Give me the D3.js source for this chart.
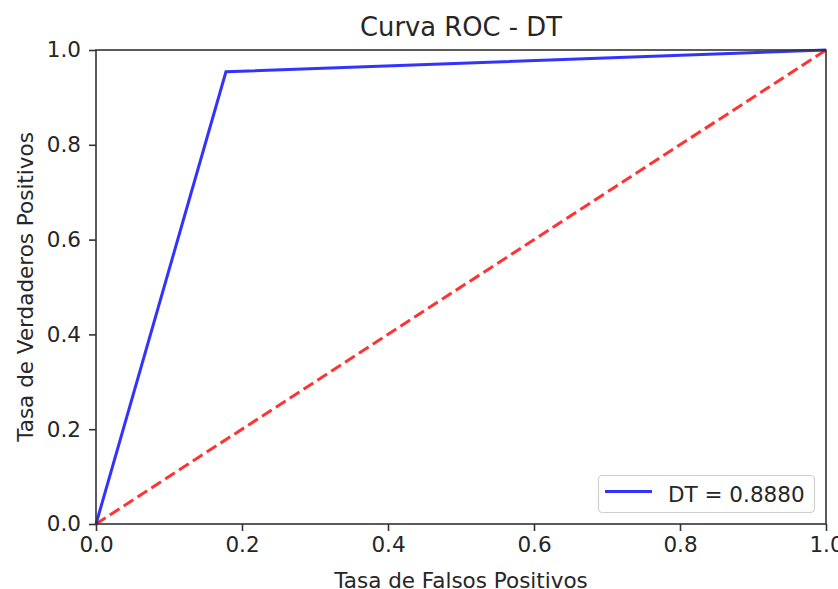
<!DOCTYPE html>
<html>
<head>
<meta charset="utf-8">
<script src="https://cdn.jsdelivr.net/npm/d3@7"></script>
<style>
  body { margin: 0; background: #fff; }
  text { font-family: "DejaVu Sans", sans-serif; fill: #262626; }
</style>
</head>
<body>
<script>
// ROC curve points
const fpr = [0.0, 0.178, 1.0];
const tpr = [0.0, 0.954, 1.0];
const chanceX = [0, 1];
const chanceY = [0, 1];
const ticks = [0.0, 0.2, 0.4, 0.6, 0.8, 1.0];
const legendLabel = 'DT = 0.8880';

const width = 838, height = 589;
const margin = { left: 96, right: 12, top: 50, bottom: 65 };
const fs = 21.5;

const svg = d3.select('body').append('svg')
    .attr('width', width)
    .attr('height', height);

const x = d3.scaleLinear().domain([0, 1]).range([margin.left, width - margin.right]);
const y = d3.scaleLinear().domain([0, 1]).range([height - margin.bottom, margin.top]);

// axes
const xAxis = svg.append('g')
    .attr('transform', `translate(0,${height - margin.bottom})`)
    .call(d3.axisBottom(x).tickValues(ticks).tickFormat(d3.format('.1f')).tickSize(7).tickPadding(6));
const yAxis = svg.append('g')
    .attr('transform', `translate(${margin.left},0)`)
    .call(d3.axisLeft(y).tickValues(ticks).tickFormat(d3.format('.1f')).tickSize(7).tickPadding(8));

[xAxis, yAxis].forEach(a => {
    a.select('.domain').remove();
    a.selectAll('.tick line').attr('stroke', '#333').attr('stroke-width', 1.6);
    a.selectAll('.tick text').style('font-size', fs + 'px').attr('fill', '#262626');
});

// lines
const line = d3.line().x(d => x(d[0])).y(d => y(d[1]));

svg.append('path')
    .datum(chanceX.map((v, i) => [v, chanceY[i]]))
    .attr('d', line)
    .attr('fill', 'none')
    .attr('stroke', 'red')
    .attr('stroke-opacity', 0.8)
    .attr('stroke-width', 3)
    .attr('stroke-dasharray', '11.5,5');

svg.append('path')
    .datum(fpr.map((v, i) => [v, tpr[i]]))
    .attr('d', line)
    .attr('fill', 'none')
    .attr('stroke', 'blue')
    .attr('stroke-opacity', 0.8)
    .attr('stroke-width', 3);

// frame
svg.append('rect')
    .attr('x', x(0)).attr('y', y(1))
    .attr('width', x(1) - x(0)).attr('height', y(0) - y(1))
    .attr('fill', 'none')
    .attr('stroke', '#333')
    .attr('stroke-width', 1.6);

// labels
svg.append('text')
    .attr('x', (x(0) + x(1)) / 2).attr('y', 36)
    .attr('text-anchor', 'middle')
    .style('font-size', '25.8px')
    .text('Curva ROC - DT');

svg.append('text')
    .attr('x', (x(0) + x(1)) / 2).attr('y', 588)
    .attr('text-anchor', 'middle')
    .style('font-size', fs + 'px')
    .text('Tasa de Falsos Positivos');

svg.append('text')
    .attr('transform', `translate(33,${(y(0) + y(1)) / 2}) rotate(-90)`)
    .attr('text-anchor', 'middle')
    .style('font-size', fs + 'px')
    .text('Tasa de Verdaderos Positivos');

// legend
const lg = svg.append('g');
lg.append('rect')
    .attr('x', 598.5).attr('y', 475.5)
    .attr('width', 216).attr('height', 37)
    .attr('rx', 4)
    .attr('fill', 'white')
    .attr('fill-opacity', 0.8)
    .attr('stroke', '#d0d0d0')
    .attr('stroke-width', 1.2);
lg.append('line')
    .attr('x1', 605).attr('x2', 652)
    .attr('y1', 491.5).attr('y2', 491.5)
    .attr('stroke', 'blue')
    .attr('stroke-opacity', 0.8)
    .attr('stroke-width', 3);
lg.append('text')
    .attr('x', 668).attr('y', 502)
    .style('font-size', fs + 'px')
    .text(legendLabel);
</script>
</body>
</html>
